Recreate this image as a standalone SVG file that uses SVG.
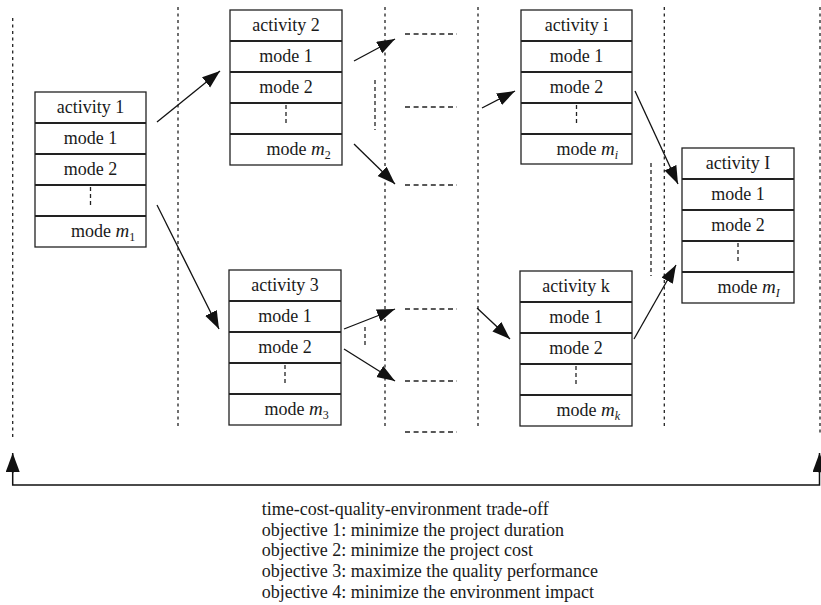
<svg xmlns="http://www.w3.org/2000/svg" width="821" height="605" viewBox="0 0 821 605">
<style>
.bx{fill:#fff;stroke:#222;stroke-width:1.3}
.sep{stroke:#222;stroke-width:2.2}
.t{font-family:"Liberation Serif","Times New Roman",serif;font-size:18px;fill:#1a1a1a}
.c{text-anchor:middle}
.it{font-style:italic;font-size:19px}
.sub{font-size:12px}
.vd{stroke:#222;stroke-width:1.3;stroke-dasharray:3,3.5;fill:none}
.hd{stroke:#222;stroke-width:1.3;stroke-dasharray:5,3.6;fill:none}
.dd{stroke:#222;stroke-width:1.3;stroke-dasharray:4,3;fill:none}
.ar{stroke:#111;stroke-width:1.3;fill:none;marker-end:url(#ah)}
.ar2{stroke:#111;stroke-width:1.5;fill:none;marker-end:url(#ah2)}
</style>
<defs>
<marker id="ah" markerUnits="userSpaceOnUse" markerWidth="20" markerHeight="14" refX="18" refY="6.5" orient="auto">
<path d="M0,0 L18,6.5 L0,13 z" fill="#111"/>
</marker>
<marker id="ah2" markerUnits="userSpaceOnUse" markerWidth="21" markerHeight="16" refX="19" refY="7" orient="auto">
<path d="M0,0 L19,7 L0,14 z" fill="#111"/>
</marker>
</defs>
<rect width="821" height="605" fill="#fff"/>
<g id="guides">
<line class="vd" x1="12.7" y1="18" x2="12.7" y2="439"/>
<line class="vd" x1="178" y1="7" x2="178" y2="429"/>
<line class="vd" x1="385" y1="7" x2="385" y2="429"/>
<line class="vd" x1="478" y1="7" x2="478" y2="429"/>
<line class="vd" x1="664.3" y1="7" x2="664.3" y2="429"/>
<line class="vd" x1="820" y1="7" x2="820" y2="433"/>
<line class="hd" x1="405" y1="34" x2="457" y2="34"/>
<line class="hd" x1="405" y1="107" x2="457" y2="107"/>
<line class="hd" x1="405" y1="185" x2="457" y2="185"/>
<line class="hd" x1="405" y1="309" x2="457" y2="309"/>
<line class="hd" x1="405" y1="381" x2="457" y2="381"/>
<line class="hd" x1="405" y1="432" x2="457" y2="432"/>
<line class="dd" x1="375" y1="80" x2="375" y2="130"/>
<line class="dd" x1="365" y1="327" x2="365" y2="347"/>
<line class="dd" x1="651" y1="163" x2="651" y2="276"/>
</g>
<g id="activity1">
<rect class="bx" x="35" y="92" width="111" height="155"/>
<line class="sep" x1="35" y1="123" x2="146" y2="123"/>
<line class="sep" x1="35" y1="154" x2="146" y2="154"/>
<line class="sep" x1="35" y1="185" x2="146" y2="185"/>
<line class="sep" x1="35" y1="216" x2="146" y2="216"/>
<text class="t c" x="90.5" y="113">activity 1</text>
<text class="t c" x="90.5" y="144">mode 1</text>
<text class="t c" x="90.5" y="175">mode 2</text>
<line class="dd" x1="90.5" y1="187" x2="90.5" y2="207"/>
<text class="t" x="71" y="237">mode <tspan class="it">m</tspan><tspan class="sub" dy="4">1</tspan></text>
</g>
<g id="activity2">
<rect class="bx" x="230" y="10" width="112" height="155"/>
<line class="sep" x1="230" y1="41" x2="342" y2="41"/>
<line class="sep" x1="230" y1="72" x2="342" y2="72"/>
<line class="sep" x1="230" y1="103" x2="342" y2="103"/>
<line class="sep" x1="230" y1="134" x2="342" y2="134"/>
<text class="t c" x="286" y="31">activity 2</text>
<text class="t c" x="286" y="62">mode 1</text>
<text class="t c" x="286" y="93">mode 2</text>
<line class="dd" x1="286" y1="105" x2="286" y2="125"/>
<text class="t" x="266.5" y="155">mode <tspan class="it">m</tspan><tspan class="sub" dy="4">2</tspan></text>
</g>
<g id="activityi">
<rect class="bx" x="521" y="10" width="111" height="154"/>
<line class="sep" x1="521" y1="41" x2="632" y2="41"/>
<line class="sep" x1="521" y1="72" x2="632" y2="72"/>
<line class="sep" x1="521" y1="103" x2="632" y2="103"/>
<line class="sep" x1="521" y1="134" x2="632" y2="134"/>
<text class="t c" x="576.5" y="31">activity i</text>
<text class="t c" x="576.5" y="62">mode 1</text>
<text class="t c" x="576.5" y="93">mode 2</text>
<line class="dd" x1="576.5" y1="105" x2="576.5" y2="125"/>
<text class="t" x="556.5" y="155">mode <tspan class="it">m</tspan><tspan class="sub" font-style="italic" dy="4">i</tspan></text>
</g>
<g id="activityI">
<rect class="bx" x="682" y="148" width="112" height="155"/>
<line class="sep" x1="682" y1="179" x2="794" y2="179"/>
<line class="sep" x1="682" y1="210" x2="794" y2="210"/>
<line class="sep" x1="682" y1="241" x2="794" y2="241"/>
<line class="sep" x1="682" y1="272" x2="794" y2="272"/>
<text class="t c" x="738" y="169">activity I</text>
<text class="t c" x="738" y="200">mode 1</text>
<text class="t c" x="738" y="231">mode 2</text>
<line class="dd" x1="738" y1="243" x2="738" y2="263"/>
<text class="t" x="717.5" y="293">mode <tspan class="it">m</tspan><tspan class="sub" font-style="italic" dy="4">I</tspan></text>
</g>
<g id="activity3">
<rect class="bx" x="229" y="270" width="112" height="155"/>
<line class="sep" x1="229" y1="301" x2="341" y2="301"/>
<line class="sep" x1="229" y1="332" x2="341" y2="332"/>
<line class="sep" x1="229" y1="363" x2="341" y2="363"/>
<line class="sep" x1="229" y1="394" x2="341" y2="394"/>
<text class="t c" x="285" y="291">activity 3</text>
<text class="t c" x="285" y="322">mode 1</text>
<text class="t c" x="285" y="353">mode 2</text>
<line class="dd" x1="285" y1="365" x2="285" y2="385"/>
<text class="t" x="264.5" y="415">mode <tspan class="it">m</tspan><tspan class="sub" dy="4">3</tspan></text>
</g>
<g id="activityk">
<rect class="bx" x="520" y="271" width="112" height="155"/>
<line class="sep" x1="520" y1="302" x2="632" y2="302"/>
<line class="sep" x1="520" y1="333" x2="632" y2="333"/>
<line class="sep" x1="520" y1="364" x2="632" y2="364"/>
<line class="sep" x1="520" y1="395" x2="632" y2="395"/>
<text class="t c" x="576" y="292">activity k</text>
<text class="t c" x="576" y="323">mode 1</text>
<text class="t c" x="576" y="354">mode 2</text>
<line class="dd" x1="576" y1="366" x2="576" y2="386"/>
<text class="t" x="556.5" y="416">mode <tspan class="it">m</tspan><tspan class="sub" font-style="italic" dy="4">k</tspan></text>
</g>
<g id="connectors">
<line class="ar" x1="157" y1="122" x2="220" y2="71"/>
<line class="ar" x1="157" y1="205" x2="219" y2="329"/>
<line class="ar" x1="354" y1="61" x2="395" y2="39"/>
<line class="ar" x1="354" y1="144" x2="395" y2="184"/>
<line class="ar" x1="482" y1="108" x2="515" y2="91"/>
<line class="ar" x1="635" y1="91" x2="678" y2="184"/>
<line class="ar" x1="634" y1="339" x2="676" y2="265"/>
<line class="ar" x1="344" y1="329" x2="395" y2="309"/>
<line class="ar" x1="344" y1="349" x2="395" y2="381"/>
<line class="ar" x1="477" y1="308" x2="510" y2="339"/>
<polyline points="12.7,472 12.7,485 819.5,485 819.5,472" fill="none" stroke="#111" stroke-width="1.5"/>
<line class="ar2" x1="12.7" y1="473" x2="12.7" y2="453"/>
<line class="ar2" x1="819.5" y1="473" x2="819.5" y2="453"/>
</g>
<g id="legend" class="t">
<text x="261.7" y="515">time-cost-quality-environment trade-off</text>
<text x="261.7" y="535.7">objective 1: minimize the project duration</text>
<text x="261.7" y="556.3">objective 2: minimize the project cost</text>
<text x="261.7" y="577">objective 3: maximize the quality performance</text>
<text x="261.7" y="597.6">objective 4: minimize the environment impact</text>
</g>
</svg>
